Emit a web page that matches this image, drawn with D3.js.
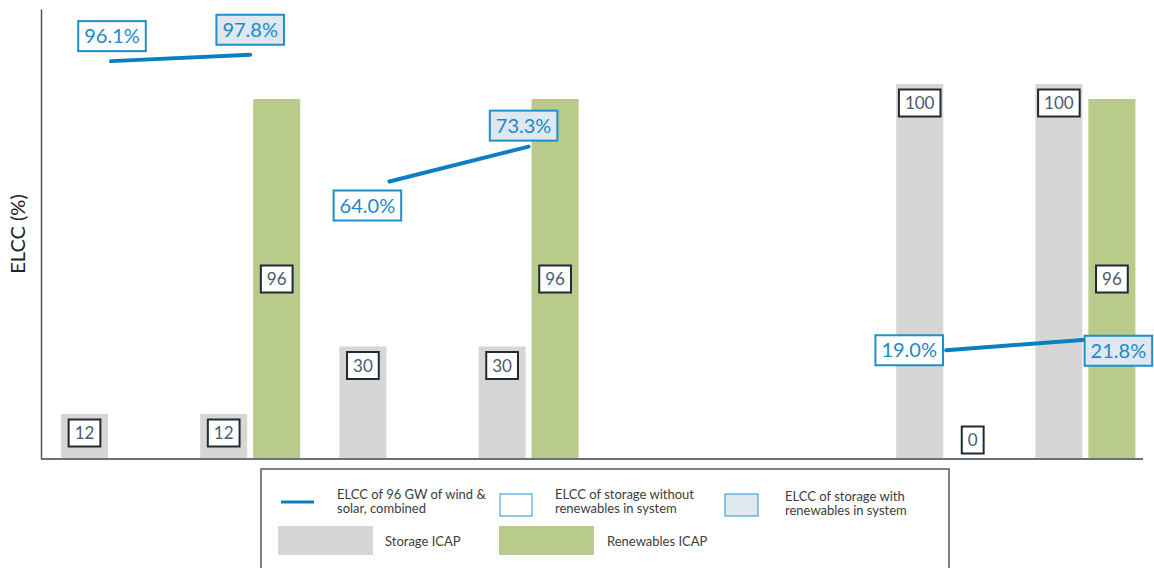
<!DOCTYPE html>
<html>
<head>
<meta charset="utf-8">
<script src="https://cdn.jsdelivr.net/npm/d3@7"></script>
<style>
  body { margin: 0; background: #fff; }
  svg { display: block; font-family: Lato, "Open Sans", sans-serif; }
</style>
</head>
<body>
<svg id="chart" width="1154" height="568"></svg>
<script>
// categories (two empty slots in the middle of the original chart)
var categories = ['S12', 'S12+R', 'S30', 'S30+R', 'gap1', 'gap2', 'S100', 'S100+R'];
var storageIcap = [12, 12, 30, 30, null, null, 100, 100];
var renewablesIcap = [null, 96, null, 96, null, null, 0, 96];

// ELCC of 96 GW wind+solar: storage without renewables -> with renewables
var elccFrom = ['S12', 'S30', 'S100'];
var elccTo = ['S12+R', 'S30+R', 'S100+R'];
var elccWithout = [96.1, 64.0, 19.0];
var elccWith = [97.8, 73.3, 21.8];

var legendLabels = ['ELCC of 96 GW of wind &|solar, combined', 'ELCC of storage without|renewables in system',
  'ELCC of storage with|renewables in system', 'Storage ICAP', 'Renewables ICAP'];

// layout
var plotLeft = 41, plotTop = 9, plotBottom = 459, plotRight = 1143, step = 139.2;
var colGray = '#d6d6d6', colGreen = '#b8cb8a', colBlue = '#0a80c2', colPale = '#dfe8f0';
// label box offsets (centre relative to line point) for without / with
var offWithout = [[1, -25], [-22, 24], [-37, 0]];
var offWith = [[0, -25], [-5, -21], [33, 11]];

var svg = d3.select('#chart');

var x = d3.scaleBand().domain(categories).range([plotLeft, plotLeft + step * categories.length]);
var sub = d3.scaleBand().domain(['storage', 'renewables']).range([20, 120]).paddingInner(0.113);
var yIcap = d3.scaleLinear().domain([0, 120]).range([plotBottom, plotTop]);
var yElcc = d3.scaleLinear().domain([-10, 110]).range([plotBottom, plotTop]);

function gapX(c) {
  return x(c) + (sub('storage') + sub.bandwidth() + sub('renewables')) / 2;
}

var rows = categories.map(function(c, i) {
  return { cat: c, storage: storageIcap[i], renew: renewablesIcap[i] };
});

// bars
var g = svg.append('g');
g.selectAll('rect.st').data(rows.filter(function(d) { return d.storage != null; }))
  .enter().append('rect')
  .attr('x', function(d) { return x(d.cat) + sub('storage'); })
  .attr('y', function(d) { return yIcap(d.storage); })
  .attr('width', sub.bandwidth())
  .attr('height', function(d) { return plotBottom - yIcap(d.storage); })
  .attr('fill', colGray);

g.selectAll('rect.rn').data(rows.filter(function(d) { return d.renew != null; }))
  .enter().append('rect')
  .attr('x', function(d) { return x(d.cat) + sub('renewables'); })
  .attr('y', function(d) { return yIcap(d.renew); })
  .attr('width', sub.bandwidth())
  .attr('height', function(d) { return plotBottom - yIcap(d.renew); })
  .attr('fill', colGreen);

// axes
var yAxis = svg.append('g').attr('transform', 'translate(' + plotLeft + ',0)')
  .call(d3.axisLeft(yIcap).tickValues([]).tickSizeOuter(0));
yAxis.select('.domain').attr('stroke', '#555').attr('stroke-width', 1.5);
svg.append('line').attr('x1', plotLeft).attr('x2', plotRight).attr('y1', plotBottom).attr('y2', plotBottom)
  .attr('stroke', '#6b7178').attr('stroke-width', 2);

svg.append('text')
  .attr('transform', 'translate(25,' + ((plotTop + plotBottom) / 2) + ') rotate(-90)')
  .attr('text-anchor', 'middle')
  .attr('font-size', 20).attr('fill', '#222')
  .text('ELCC (%)');

// boxed value labels
function boxLabel(parent, cx, cy, txt, opt) {
  var gg = parent.append('g');
  var r = gg.append('rect');
  var t = gg.append('text').attr('x', cx).attr('y', cy).attr('dy', '0.36em')
    .attr('text-anchor', 'middle').attr('font-size', opt.size).attr('fill', opt.color).text(txt);
  var w = t.node().getComputedTextLength() + opt.pad * 2;
  r.attr('x', cx - w / 2).attr('y', cy - opt.h / 2).attr('width', w).attr('height', opt.h)
    .attr('fill', opt.fill).attr('stroke', opt.stroke).attr('stroke-width', opt.sw);
}

var icapOpt = { size: 17, color: '#4b5a6e', pad: 6, h: 27, fill: '#fff', stroke: '#1f2a35', sw: 2 };
rows.forEach(function(d) {
  if (d.storage != null) {
    boxLabel(svg, x(d.cat) + sub('storage') + sub.bandwidth() / 2, yIcap(d.storage) + 19, d.storage, icapOpt);
  }
  if (d.renew != null) {
    var cy = d.renew > 0 ? (yIcap(d.renew) + plotBottom) / 2 : plotBottom - 19;
    boxLabel(svg, x(d.cat) + sub('renewables') + sub.bandwidth() / 2, cy, d.renew, icapOpt);
  }
});

// ELCC lines
var line = d3.line().x(function(p) { return p[0]; }).y(function(p) { return p[1]; });
elccFrom.forEach(function(c, i) {
  var p0 = [gapX(c), yElcc(elccWithout[i])];
  var p1 = [gapX(elccTo[i]), yElcc(elccWith[i])];
  svg.append('path').attr('d', line([p0, p1]))
    .attr('stroke', colBlue).attr('stroke-width', 4).attr('stroke-linecap', 'round').attr('fill', 'none');
  var pOpt = { size: 20, color: '#1b8ac8', pad: 6, h: 30, stroke: '#1f8fcb', sw: 2 };
  boxLabel(svg, p0[0] + offWithout[i][0], p0[1] + offWithout[i][1], elccWithout[i].toFixed(1) + '%',
    Object.assign({}, pOpt, { fill: '#fff' }));
  boxLabel(svg, p1[0] + offWith[i][0], p1[1] + offWith[i][1], elccWith[i].toFixed(1) + '%',
    Object.assign({}, pOpt, { fill: colPale }));
});

// legend
var lg = svg.append('g');
lg.append('rect').attr('x', 261).attr('y', 469).attr('width', 688).attr('height', 120)
  .attr('fill', '#fff').attr('stroke', '#555').attr('stroke-width', 1.5);

function legText(tx, ty, s) {
  s.split('|').forEach(function(part, k) {
    lg.append('text').attr('x', tx).attr('y', ty + k * 14).attr('font-size', 13)
      .attr('fill', '#3c3c3c').text(part);
  });
}

lg.append('line').attr('x1', 281).attr('x2', 314).attr('y1', 502).attr('y2', 502)
  .attr('stroke', colBlue).attr('stroke-width', 3);
legText(337, 499, legendLabels[0]);
lg.append('rect').attr('x', 500).attr('y', 494).attr('width', 32).attr('height', 22)
  .attr('fill', '#fff').attr('stroke', '#4aa3d6').attr('stroke-width', 1.2);
legText(555, 499, legendLabels[1]);
lg.append('rect').attr('x', 725).attr('y', 494).attr('width', 33).attr('height', 22)
  .attr('fill', colPale).attr('stroke', '#4aa3d6').attr('stroke-width', 1.2);
legText(785, 501, legendLabels[2]);
lg.append('rect').attr('x', 278).attr('y', 526).attr('width', 95).attr('height', 29).attr('fill', colGray);
legText(385, 546, legendLabels[3]);
lg.append('rect').attr('x', 499).attr('y', 526).attr('width', 95).attr('height', 29).attr('fill', colGreen);
legText(607, 546, legendLabels[4]);
</script>
</body>
</html>
